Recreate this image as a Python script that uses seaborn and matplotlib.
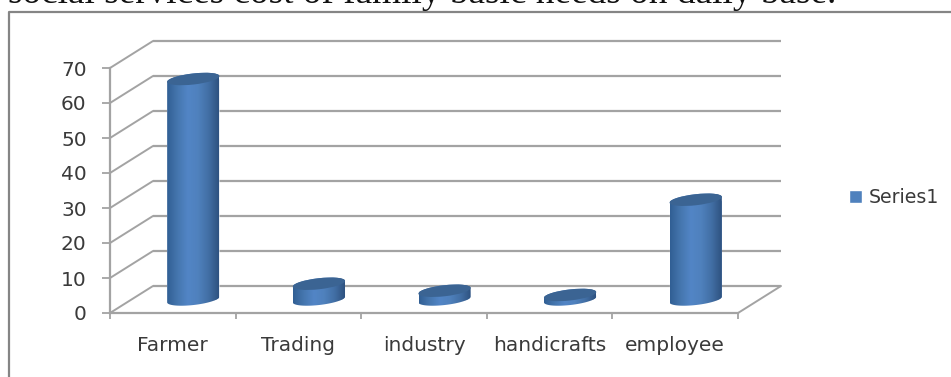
import numpy as np
import pandas as pd
import matplotlib
matplotlib.use("Agg")
import matplotlib.pyplot as plt
import seaborn as sns
from matplotlib.colors import LinearSegmentedColormap
from matplotlib.lines import Line2D
from matplotlib.patches import Ellipse
from matplotlib.path import Path
from matplotlib.transforms import Affine2D, IdentityTransform

categories = ["Farmer", "Trading", "industry", "handicrafts", "employee"]
values = [63, 4.5, 2.5, 1.3, 28.5]
y_ticks = [0, 10, 20, 30, 40, 50, 60, 70]
series_name = "Series1"
heading = "social services cost of family basic needs on daily base."

W, H = 951, 377
GRID = "#a3a3a3"
TEXT = "#3a3a3a"
BLUE = "#4f81bd"
LABEL_SIZE = 14.5

sns.set_style("white")
plt.rcParams["font.family"] = ["DejaVu Sans"]

fig = plt.figure(figsize=(W / 100, H / 100), dpi=100, facecolor="white")
ax = fig.add_axes([110 / W, 1 - 313 / H, 628 / W, 245 / H])
ax.patch.set_alpha(0)

frame = pd.DataFrame({"category": categories, "value": values})
sns.barplot(data=frame, x="category", y="value", color=BLUE, width=0.414,
            saturation=1, label=series_name, ax=ax, zorder=2)
ax.set_xlim(-0.5, 4.5)
ax.set_ylim(0, 70)
ax.set_xlabel("")
ax.set_ylabel("")

# Depth of the floor in pixels: the back wall and the bar plane are shifted copies of the front plane
DX, DY = 43, 27
back = ax.transData + Affine2D().translate(DX, DY)
middle = ax.transData + Affine2D().translate(DX / 2 - 1, DY / 2)

# Back wall gridlines and the diagonals on the side wall
for v in y_ticks:
    ax.plot([-0.5, 4.5], [v, v], transform=back, color=GRID, lw=1.6,
            clip_on=False, zorder=1, solid_capstyle="butt")
    x0, y0 = ax.transData.transform((-0.5, v))
    ax.add_line(Line2D([x0, x0 + DX], [y0, y0 + DY], transform=IdentityTransform(),
                       color=GRID, lw=1.4, clip_on=False, zorder=1))

# Right edge of the floor
x0, y0 = ax.transData.transform((4.5, 0))
ax.add_line(Line2D([x0, x0 + DX], [y0, y0 + DY], transform=IdentityTransform(),
                   color=GRID, lw=1.4, clip_on=False, zorder=1))

for side in ("top", "right"):
    ax.spines[side].set_visible(False)
for side in ("left", "bottom"):
    ax.spines[side].set_color(GRID)
    ax.spines[side].set_linewidth(1.6)

ax.set_yticks(y_ticks)
ax.tick_params(axis="y", length=5.8, width=1.3, color=GRID, pad=11,
               labelsize=LABEL_SIZE, labelcolor=TEXT, left=True)
ax.set_xticks(np.arange(-0.5, 5, 1), minor=True)
ax.tick_params(axis="x", which="minor", length=4.5, width=1.3, color=GRID, bottom=True)
ax.tick_params(axis="x", which="major", length=0, pad=16.5, labelsize=LABEL_SIZE, labelcolor=TEXT)

# Cylinders: each bar gets a shaded body clipped to its outline and an elliptical cap
shade = LinearSegmentedColormap.from_list(
    "cylinder", ["#315f94", "#4576ae", "#5285c6", "#4f81bd", "#426fa5", "#2e5280"])
gradient = np.linspace(0, 1, 128).reshape(1, -1)
TILT = np.deg2rad(6.5)
SEMI_MAJOR, SEMI_MINOR = 26.3, 5.5


def elliptical_arc(cx, cy, start, stop):
    t = np.linspace(start, stop, 60)
    ex, ey = SEMI_MAJOR * np.cos(t), SEMI_MINOR * np.sin(t)
    return np.column_stack([cx + ex * np.cos(TILT) - ey * np.sin(TILT),
                            cy + ex * np.sin(TILT) + ey * np.cos(TILT)])


for bar in list(ax.patches):
    left, width, height = bar.get_x(), bar.get_width(), bar.get_height()
    centre = left + width / 2

    cx, base_y = middle.transform((centre, 0))
    _, top_y = middle.transform((centre, height))
    outline = np.vstack([elliptical_arc(cx, top_y, 0, np.pi),
                         elliptical_arc(cx, base_y, np.pi, 2 * np.pi)])
    body = Path(np.vstack([outline, outline[:1]]), closed=True)

    bar.set_transform(middle)
    bar.set_clip_path(body, transform=IdentityTransform())

    image = ax.imshow(gradient, cmap=shade, aspect="auto", zorder=3,
                      extent=(left, left + width, -4, height + 4), transform=middle)
    image.set_clip_path(body, transform=IdentityTransform())
    ax.add_patch(Ellipse((cx, top_y), 2 * SEMI_MAJOR, 2 * SEMI_MINOR,
                         angle=np.rad2deg(TILT), facecolor="#3b6493", edgecolor="none",
                         transform=IdentityTransform(), clip_on=False, zorder=4))

ax.set_xlim(-0.5, 4.5)
ax.set_ylim(0, 70)

legend = ax.legend(loc="center left", bbox_to_anchor=(849 / W, 1 - 198 / H),
                   bbox_transform=fig.transFigure, frameon=False, fontsize=13.7,
                   handlelength=0.68, handleheight=0.68, handletextpad=0.36,
                   borderpad=0, borderaxespad=0, labelcolor=TEXT)

# Page furniture around the chart: the outer border and the sentence above it
fig.add_artist(Line2D([9 / W, 9 / W, 1], [0, 1 - 12 / H, 1 - 12 / H],
                      color="#858585", lw=1.6, transform=fig.transFigure))
fig.text(8 / W, 1 - 3 / H, heading, family="Liberation Serif", fontsize=26.8,
         color="#111111", va="baseline", ha="left")

fig.savefig("out.png", dpi=100)
